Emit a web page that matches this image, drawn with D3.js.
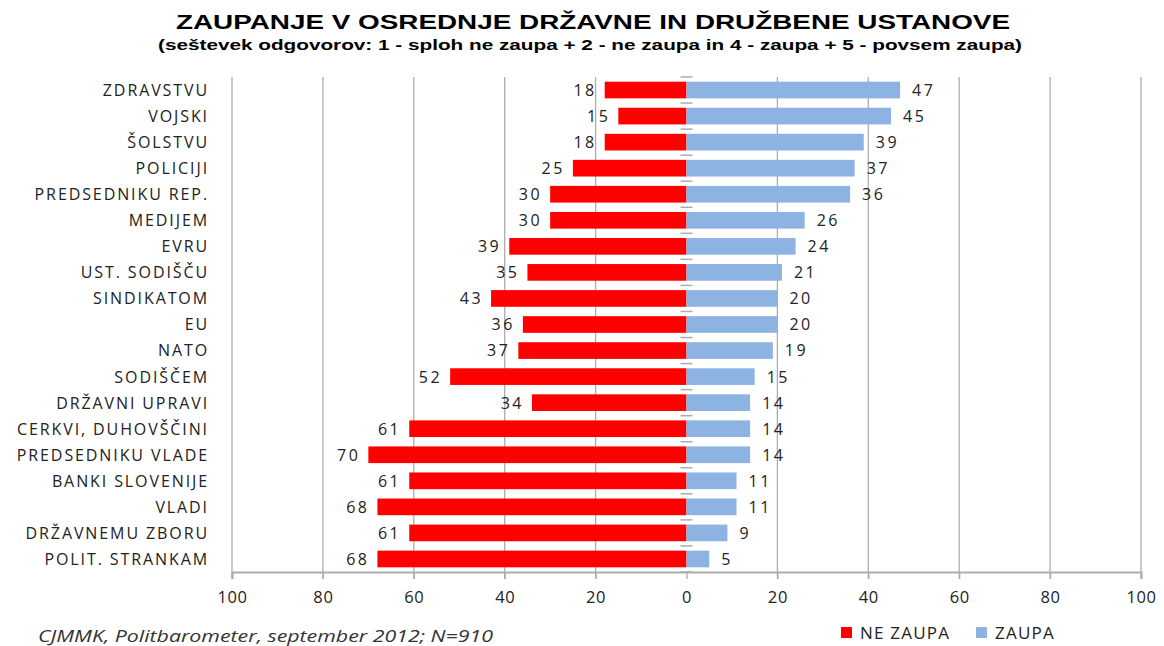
<!DOCTYPE html>
<html>
<head>
<meta charset="utf-8">
<title>Zaupanje v ustanove</title>
<script src="https://d3js.org/d3.v7.min.js"></script>
<style>
  body { margin: 0; background: #fff; }
  svg { display: block; }
</style>
</head>
<body>
<svg id="chart" width="1164" height="646"></svg>
<script>
// data
var categories = ["ZDRAVSTVU", "VOJSKI", "ŠOLSTVU", "POLICIJI", "PREDSEDNIKU REP.", "MEDIJEM", "EVRU",
  "UST. SODIŠČU", "SINDIKATOM", "EU", "NATO", "SODIŠČEM", "DRŽAVNI UPRAVI", "CERKVI, DUHOVŠČINI",
  "PREDSEDNIKU VLADE", "BANKI SLOVENIJE", "VLADI", "DRŽAVNEMU ZBORU", "POLIT. STRANKAM"];
var neZaupa = [18, 15, 18, 25, 30, 30, 39, 35, 43, 36, 37, 52, 34, 61, 70, 61, 68, 61, 68];
var zaupa = [47, 45, 39, 37, 36, 26, 24, 21, 20, 20, 19, 15, 14, 14, 14, 11, 11, 9, 5];
var xTicks = [-100, -80, -60, -40, -20, 0, 20, 40, 60, 80, 100];
var seriesNames = ["NE ZAUPA", "ZAUPA"];

var RED = "#ff0000", BLUE = "#8db3e2", GRID = "#adadad";
var FONT = "Open Sans, sans-serif";
var svg = d3.select("#chart");

var x = d3.scaleLinear().domain([-100, 100]).range([232, 1141]);
var y = d3.scaleBand().domain(categories).range([77, 572]).paddingInner(0.36).paddingOuter(0.18);

// title
svg.append("text").attr("x", 593).attr("y", 29).attr("text-anchor", "middle")
  .style("font-family", "Liberation Sans, Arial").style("font-weight", "bold").style("font-size", "21px")
  .attr("textLength", 834).attr("lengthAdjust", "spacingAndGlyphs")
  .text("ZAUPANJE V OSREDNJE DRŽAVNE IN DRUŽBENE USTANOVE");
svg.append("text").attr("x", 590).attr("y", 50).attr("text-anchor", "middle")
  .style("font-family", "Liberation Sans Narrow, Liberation Sans, Arial").style("font-weight", "bold").style("font-size", "15px")
  .attr("textLength", 864).attr("lengthAdjust", "spacingAndGlyphs")
  .text("(seštevek odgovorov: 1 - sploh ne zaupa + 2 - ne zaupa in 4 - zaupa + 5 - povsem zaupa)");

// vertical grid lines (extend below axis as ticks)
svg.append("g").selectAll("line").data(xTicks.filter(function(d){ return d !== 0; })).enter().append("line")
  .attr("x1", function(d){ return x(d); }).attr("x2", function(d){ return x(d); })
  .attr("y1", 77).attr("y2", 579)
  .attr("stroke", GRID).attr("stroke-width", 1.3);

// bottom axis
var xAxis = svg.append("g").attr("transform", "translate(0,572)")
  .call(d3.axisBottom(x).tickValues(xTicks).tickFormat(function(d){ return Math.abs(d); }).tickSize(7).tickPadding(12));
xAxis.select(".domain").attr("stroke", GRID).attr("stroke-width", 2);
xAxis.selectAll(".tick line").attr("stroke", GRID).attr("stroke-width", 1.3);
xAxis.selectAll(".tick text").style("font-family", FONT).style("font-size", "16.5px")
  .style("letter-spacing", "0.6px").attr("fill", "#222");

// bars
var rows = svg.append("g").selectAll("g").data(categories).enter().append("g");
rows.append("rect").attr("fill", RED)
  .attr("x", function(d, i){ return x(-neZaupa[i]); }).attr("y", function(d){ return y(d); })
  .attr("width", function(d, i){ return x(0) - x(-neZaupa[i]); }).attr("height", y.bandwidth());
rows.append("rect").attr("fill", BLUE)
  .attr("x", x(0)).attr("y", function(d){ return y(d); })
  .attr("width", function(d, i){ return x(zaupa[i]) - x(0); }).attr("height", y.bandwidth());

// small ticks on the zero axis between categories
var zeroTicks = categories.map(function(d){ return y(d) - y.step() * y.paddingInner() / 2; });
zeroTicks.push(572);
svg.append("g").selectAll("line").data(zeroTicks).enter().append("line")
  .attr("x1", x(0) - 6).attr("x2", x(0) + 6)
  .attr("y1", function(d){ return d; }).attr("y2", function(d){ return d; })
  .attr("stroke", GRID).attr("stroke-width", 1.5);

// value labels
rows.append("text").attr("text-anchor", "end")
  .attr("x", function(d, i){ return x(-neZaupa[i]) - 8; })
  .attr("y", function(d){ return y(d) + y.bandwidth() / 2; }).attr("dy", "0.37em")
  .style("font-family", FONT).style("font-size", "16px").style("letter-spacing", "2.5px").attr("fill", "#222")
  .text(function(d, i){ return neZaupa[i]; });
rows.append("text").attr("text-anchor", "start")
  .attr("x", function(d, i){ return x(zaupa[i]) + 12; })
  .attr("y", function(d){ return y(d) + y.bandwidth() / 2; }).attr("dy", "0.37em")
  .style("font-family", FONT).style("font-size", "16px").style("letter-spacing", "2.5px").attr("fill", "#222")
  .text(function(d, i){ return zaupa[i]; });

// category labels
rows.append("text").attr("text-anchor", "end").attr("x", 209)
  .attr("y", function(d){ return y(d) + y.bandwidth() / 2; }).attr("dy", "0.37em")
  .style("font-family", FONT).style("font-size", "16px").style("letter-spacing", "1.9px").attr("fill", "#222")
  .text(function(d){ return d; });

// footnote
svg.append("text").attr("x", 38).attr("y", 642)
  .style("font-family", FONT).style("font-style", "italic").style("font-size", "16px").attr("fill", "#333")
  .attr("textLength", 455).attr("lengthAdjust", "spacingAndGlyphs")
  .text("CJMMK, Politbarometer, september 2012; N=910");

// legend
var legX = [841, 976];
var leg = svg.append("g").selectAll("g").data(seriesNames).enter().append("g")
  .attr("transform", function(d, i){ return "translate(" + legX[i] + ",627)"; });
leg.append("rect").attr("width", 11).attr("height", 11).attr("fill", function(d, i){ return i === 0 ? RED : BLUE; });
leg.append("text").attr("x", 19).attr("y", 6).attr("dy", "0.37em")
  .style("font-family", FONT).style("font-size", "17px").style("letter-spacing", "1.2px").attr("fill", "#222")
  .text(function(d){ return d; });
</script>
</body>
</html>
